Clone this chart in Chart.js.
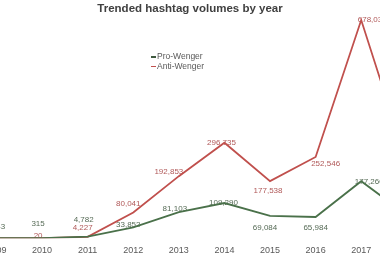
<!DOCTYPE html>
<html>
<head>
<meta charset="utf-8">
<script src="https://cdn.jsdelivr.net/npm/chart.js@4"></script>
<style>
  html, body { margin: 0; padding: 0; width: 380px; height: 260px; overflow: hidden; background: #ffffff; }
  #wrap { position: absolute; left: -30px; top: 0; width: 460px; height: 260px; }
  #title { position: absolute; left: 0; top: 0; width: 380px; text-align: center;
    font: bold 11.5px "Liberation Sans", Arial, sans-serif; color: #404040; line-height: 16px; }
  #legend { position: absolute; left: 151px; top: 52px; font: 8.5px "Liberation Sans", Arial, sans-serif;
    color: #595959; line-height: 9.5px; }
  #legend .sw { display: inline-block; width: 5px; height: 1.5px; vertical-align: middle; margin-right: 1px; }
</style>
</head>
<body>
<div id="wrap"><canvas id="c"></canvas></div>
<div id="title">Trended hashtag volumes by year</div>
<div id="legend">
  <div><span class="sw" style="background:#3f5a3f"></span>Pro-Wenger</div>
  <div><span class="sw" style="background:#c0504d"></span>Anti-Wenger</div>
</div>
<script>
const years = ['2009', '2010', '2011', '2012', '2013', '2014', '2015', '2016', '2017', '2018'];
const proWenger = [143, 315, 4782, 33852, 81103, 109290, 69084, 65984, 177260, 72000];
const antiWenger = [2, 20, 4227, 80041, 192853, 296735, 177538, 252546, 678037, 236000];

const labelStyle = {
  colors: ['#566b56', '#b05858'],
  dx: [
    [2, -4, -4, -5, -4, -1, -5, 0, 8, 0],
    [0, -4, -5, -5, -10, -3, -2, 10, 11, 0]
  ],
  dy: [
    [-11, -14, -17, -3, -3, 0, 12, 11, 1, 0],
    [0, -2, -9, -9, -4, 0, 10, 7, 0, 0]
  ]
};

const valueLabels = {
  id: 'valueLabels',
  beforeDatasetsDraw(chart) {
    const ctx = chart.ctx;
    chart.data.datasets.forEach((ds, i) => {
      const meta = chart.getDatasetMeta(i);
      ctx.save();
      ctx.font = '8px "Liberation Sans", Arial, sans-serif';
      ctx.fillStyle = labelStyle.colors[i];
      ctx.textAlign = 'center';
      ctx.textBaseline = 'middle';
      meta.data.forEach((pt, j) => {
        ctx.fillText(ds.data[j].toLocaleString('en-US'), pt.x + labelStyle.dx[i][j], pt.y + labelStyle.dy[i][j]);
      });
      ctx.restore();
    });
  }
};

new Chart(document.getElementById('c'), {
  type: 'line',
  data: {
    labels: years,
    datasets: [
      { label: 'Pro-Wenger', data: proWenger, borderColor: '#4a714a', borderWidth: 1.8, pointRadius: 0, tension: 0, fill: false },
      { label: 'Anti-Wenger', data: antiWenger, borderColor: '#c0504d', borderWidth: 1.8, pointRadius: 0, tension: 0, fill: false }
    ]
  },
  options: {
    responsive: true,
    maintainAspectRatio: false,
    animation: false,
    layout: { padding: { left: 26.5, right: 23.2, top: 13, bottom: -3 } },
    plugins: { legend: { display: false }, title: { display: false }, tooltip: { enabled: false } },
    scales: {
      x: {
        grid: { display: false, drawTicks: false, tickLength: 0 },
        border: { display: false },
        ticks: { color: '#595959', font: { family: '"Liberation Sans", Arial, sans-serif', size: 9 }, padding: 7, maxRotation: 0, autoSkip: false }
      },
      y: { display: false, min: 0, max: 700000 }
    }
  },
  plugins: [valueLabels]
});
</script>
</body>
</html>
